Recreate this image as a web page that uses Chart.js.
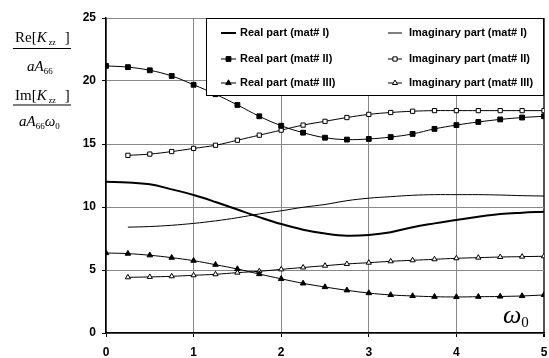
<!DOCTYPE html>
<html>
<head>
<meta charset="utf-8">
<script src="https://cdn.jsdelivr.net/npm/chart.js@4.4.1/dist/chart.umd.min.js"></script>
<style>
  html, body { margin: 0; padding: 0; background: #fff; }
  canvas { display: block; }
</style>
</head>
<body>
<canvas id="chart" width="549" height="358"></canvas>
<script>
// omega_0 sample points
var omega = [0, 0.25, 0.5, 0.75, 1, 1.25, 1.5, 1.75, 2, 2.25, 2.5, 2.75, 3, 3.25, 3.5, 3.75, 4, 4.25, 4.5, 4.75, 5];
var xTicks = [0, 1, 2, 3, 4, 5];
var yTicks = [0, 5, 10, 15, 20, 25];

// real parts start at 0, imaginary parts at 0.25
var realI   = [12.0, 11.95, 11.8, 11.4, 10.95, 10.4, 9.8, 9.2, 8.65, 8.2, 7.9, 7.72, 7.78, 8.0, 8.4, 8.7, 8.97, 9.23, 9.44, 9.55, 9.63];
var imagI   = [8.4, 8.45, 8.55, 8.7, 8.9, 9.15, 9.45, 9.7, 9.98, 10.2, 10.5, 10.7, 10.82, 10.93, 10.98, 10.98, 10.98, 10.95, 10.9, 10.87];
var realII  = [21.2, 21.1, 20.85, 20.4, 19.7, 18.95, 18.1, 17.2, 16.45, 15.9, 15.5, 15.35, 15.4, 15.55, 15.8, 16.2, 16.5, 16.75, 16.95, 17.1, 17.2];
var imagII  = [14.1, 14.2, 14.4, 14.65, 14.9, 15.3, 15.7, 16.1, 16.5, 16.8, 17.1, 17.35, 17.5, 17.6, 17.65, 17.65, 17.65, 17.65, 17.65, 17.65];
var realIII = [6.35, 6.3, 6.17, 5.98, 5.74, 5.42, 5.08, 4.68, 4.3, 3.94, 3.65, 3.39, 3.17, 3.02, 2.94, 2.88, 2.86, 2.88, 2.9, 2.94, 3.02];
var imagIII = [4.42, 4.45, 4.5, 4.58, 4.66, 4.79, 4.9, 5.05, 5.2, 5.34, 5.48, 5.58, 5.69, 5.77, 5.85, 5.93, 5.98, 6.03, 6.06, 6.09];

var seriesNames = ['Real part (mat# I)', 'Imaginary part (mat# I)',
                   'Real part (mat# II)', 'Imaginary part (mat# II)',
                   'Real part (mat# III)', 'Imaginary part (mat# III)'];

function pts(xs, ys) {
    return ys.map(function(v, i) { return { x: xs[i], y: v }; });
}
var omegaImag = omega.slice(1);

var styles = [
    { width: 2, style: false, fill: '#000', radius: 0 },
    { width: 1, style: false, fill: '#000', radius: 0 },
    { width: 1, style: 'rect', fill: '#000', radius: 3.4 },
    { width: 1, style: 'rect', fill: '#fff', radius: 3 },
    { width: 1, style: 'triangle', fill: '#000', radius: 3.2 },
    { width: 1, style: 'triangle', fill: '#fff', radius: 3 }
];
var seriesData = [pts(omega, realI), pts(omegaImag, imagI), pts(omega, realII),
                  pts(omegaImag, imagII), pts(omega, realIII), pts(omegaImag, imagIII)];

var datasets = seriesData.map(function(d, i) {
    var s = styles[i];
    return {
        label: seriesNames[i],
        data: d,
        borderColor: '#000',
        borderWidth: s.width,
        backgroundColor: s.fill,
        pointStyle: s.style || 'circle',
        pointRadius: s.radius,
        pointBorderWidth: 1,
        pointBorderColor: '#000',
        pointBackgroundColor: s.fill,
        tension: 0.4,
        fill: false
    };
});

// legend box inside the plot, drawn over the lines
var boxLegend = {
    id: 'boxLegend',
    afterDatasetsDraw: function(chart) {
        var ctx = chart.ctx;
        var a = chart.chartArea;
        var left = a.left + 100, top = a.top, right = a.right, bottom = 96;
        ctx.save();
        ctx.fillStyle = '#fff';
        ctx.fillRect(left, top, right - left, bottom - top);
        ctx.strokeStyle = '#000';
        ctx.lineWidth = 1;
        ctx.strokeRect(left + 0.5, top + 0.5, right - left - 1, bottom - top - 1);
        var rows = [33, 59, 83];
        var cols = [{ l0: left + 15, l1: left + 30, t: left + 34 }, { l0: left + 182, l1: left + 196, t: left + 203 }];
        ctx.font = 'bold 11px "Liberation Sans", Arial, sans-serif';
        ctx.textBaseline = 'middle';
        for (var i = 0; i < 6; i++) {
            var c = cols[i % 2], y = rows[Math.floor(i / 2)], s = styles[i];
            ctx.strokeStyle = '#000';
            ctx.lineWidth = s.width;
            ctx.beginPath();
            ctx.moveTo(c.l0, y);
            ctx.lineTo(c.l1, y);
            ctx.stroke();
            if (s.style) {
                ctx.fillStyle = s.fill;
                ctx.lineWidth = 1;
                Chart.helpers.drawPoint(ctx, { pointStyle: s.style, radius: s.radius, rotation: 0, borderWidth: 1 }, (c.l0 + c.l1) / 2, y);
            }
            ctx.fillStyle = '#000';
            ctx.fillText(seriesNames[i], c.t, y);
        }
        ctx.restore();
    }
};

// axis titles: fraction on the left, omega_0 at bottom right
var axisTitles = {
    id: 'axisTitles',
    afterDraw: function(chart) {
        var ctx = chart.ctx;
        var a = chart.chartArea;
        var serif = '"Liberation Serif", "Times New Roman", serif';
        ctx.save();
        ctx.fillStyle = '#000';
        ctx.textBaseline = 'alphabetic';
        ctx.textAlign = 'left';

        function run(parts, x, y) {
            parts.forEach(function(p) {
                ctx.font = (p.it ? 'italic ' : '') + p.size + 'px ' + serif;
                ctx.fillText(p.t, x + (p.pre || 0), y + (p.dy || 0));
                x += (p.pre || 0) + ctx.measureText(p.t).width + (p.gap || 0);
            });
        }
        run([{ t: 'Re[', size: 15 }, { t: 'K', size: 15, it: true }, { t: 'zz', size: 8, dy: 3, pre: 2, gap: 9 }, { t: ']', size: 15 }], 15, 42);
        ctx.fillRect(13, 48, 58, 1);
        run([{ t: 'aA', size: 15, it: true }, { t: '66', size: 9, dy: 3 }], 27, 71);
        run([{ t: 'Im[', size: 15 }, { t: 'K', size: 15, it: true }, { t: 'zz', size: 8, dy: 3, pre: 2, gap: 9 }, { t: ']', size: 15 }], 15, 100);
        ctx.fillStyle = '#808080';
        ctx.fillRect(13, 104, 58, 2);
        ctx.fillStyle = '#000';
        run([{ t: 'aA', size: 15, it: true }, { t: '66', size: 9, dy: 3 }, { t: '\u03c9', size: 15, it: true }, { t: '0', size: 9, dy: 3 }], 19, 126);

        ctx.fillStyle = '#fff';
        ctx.fillRect(a.right - 46, a.bottom - 26, 44, 25);
        ctx.fillStyle = '#000';
        run([{ t: '\u03c9', size: 26, it: true }, { t: '0', size: 15, dy: 4 }], a.right - 41, a.bottom - 10);
        ctx.restore();
    }
};

var tickFont = { family: '"Liberation Sans", Arial, sans-serif', size: 12, weight: 'bold' };

new Chart(document.getElementById('chart').getContext('2d'), {
    type: 'line',
    data: { datasets: datasets },
    options: {
        responsive: false,
        animation: false,
        layout: { padding: { top: 18, right: 2, left: 0, bottom: 0 } },
        plugins: { legend: { display: false }, tooltip: { enabled: false } },
        scales: {
            x: {
                type: 'linear',
                min: 0, max: 5,
                afterBuildTicks: function(s) { s.ticks = xTicks.map(function(v) { return { value: v }; }); },
                afterFit: function(s) { s.height = 25; s.paddingLeft = 0; s.paddingRight = 0; },
                ticks: { color: '#000', font: tickFont, padding: 8, maxRotation: 0 },
                grid: {
                    color: function(c) { return c.tick && c.tick.value === 5 ? '#555' : '#888'; },
                    lineWidth: function(c) { return c.tick && c.tick.value === 5 ? 2 : 1; },
                    tickColor: '#000', tickLength: 4
                },
                border: { color: '#000', width: 1.5 }
            },
            y: {
                min: 0, max: 25,
                afterBuildTicks: function(s) { s.ticks = yTicks.map(function(v) { return { value: v }; }); },
                afterFit: function(s) { s.width = 106; },
                ticks: { color: '#000', font: tickFont, padding: 6 },
                grid: { color: '#888', tickColor: '#000', tickLength: 4 },
                border: { color: '#000', width: 1.5 }
            }
        }
    },
    plugins: [boxLegend, axisTitles]
});
</script>
</body>
</html>
